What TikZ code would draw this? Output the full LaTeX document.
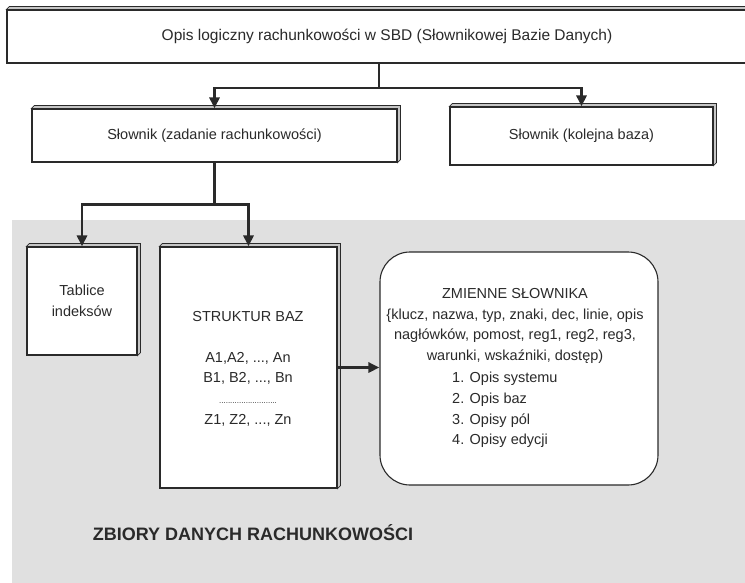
\documentclass[tikz,border=0pt]{standalone}
\usepackage{fontspec}
\setmainfont{Liberation Sans}
\usetikzlibrary{arrows.meta}
\definecolor{ink}{HTML}{2A2A2A}
\newcommand\bevelbox[1]{%
  \draw[bevelst] (#1.north west) -- ++(3,-3) -- ([shift={(3,-3)}]#1.north east)
    -- ([shift={(3,-3)}]#1.south east) -- (#1.south east) -- (#1.north east) -- cycle;}
\begin{document}
\begin{tikzpicture}[x=1pt,y=-1pt,
  font=\fontsize{14.5}{20.7}\selectfont,
  box/.style={draw=ink, line width=1.1pt, fill=white, inner sep=0pt, text=ink, align=center},
  bevelst/.style={draw=ink, line width=0.7pt, fill=gray!45},
  txt/.style={text=ink, inner sep=0pt},
  conn/.style={draw=ink, line width=2.6pt, -{Triangle[length=11pt,width=10pt]}},
  bgshade/.style={fill=black!12}]
\useasboundingbox (0,0) rectangle (745,582);
% shaded region
\fill[bgshade] (12,220) rectangle (760,600);
% boxes
\node[box, minimum width=760pt, minimum height=53pt, font=\fontsize{15.5}{20}\selectfont] (top) at (387,36.5)
  {Opis logiczny rachunkowości w SBD (Słownikowej Bazie Danych)};
\bevelbox{top}
\node[box, minimum width=365pt, minimum height=53pt] (sl1) at (214.5,135.5)
  {Słownik (zadanie rachunkowości)};
\bevelbox{sl1}
\node[box, minimum width=263pt, minimum height=58pt] (sl2) at (581.5,136)
  {Słownik (kolejna baza)};
\bevelbox{sl2}
\node[box, minimum width=110pt, minimum height=108pt] (tab) at (82,301)
  {Tablice\\indeksów};
\bevelbox{tab}
\node[box, minimum width=177pt, minimum height=241pt] (str) at (248.5,367.5) {};
\bevelbox{str}
\node[txt] (stt) at (248,317) {STRUKTUR BAZ};
\node[txt, align=center] (stl) at (248,389)
  {A1,A2, ..., An\\B1, B2, ..., Bn\\{\fontsize{8}{10}\selectfont ..........................}\\Z1, Z2, ..., Zn};
\node[draw=ink, line width=1.1pt, fill=white, rounded corners=30pt,
  minimum width=278pt, minimum height=233pt] (zm) at (519,368.5) {};
\node[txt, align=center] (zmt) at (515,326)
  {ZMIENNE SŁOWNIKA\\\{klucz, nazwa, typ, znaki, dec, linie, opis\\nagłówków, pomost, reg1, reg2, reg3,\\warunki, wskaźniki, dostęp)};
\node[txt, align=left, anchor=west] (zml) at (452,410)
  {1. Opis systemu\\2. Opis baz\\3. Opisy pól\\4. Opisy edycji};
\node[txt, font=\bfseries\fontsize{18}{20}\selectfont] (zb) at (253,533)
  {ZBIORY DANYCH RACHUNKOWOŚCI};
% connectors
\coordinate (j1) at (379,88);
\draw[conn] (top.south -| j1) -- (j1) -| (sl1.north);
\draw[conn] (j1) -| (sl2.north);
\path (sl1.south) ++(0,42) coordinate (j2);
\draw[conn] (sl1.south) -- (j2) -| (tab.north);
\draw[conn] (j2) -| (str.north);
\draw[conn] (str.east) -- (str.east -| zm.west);
\end{tikzpicture}
\end{document}
